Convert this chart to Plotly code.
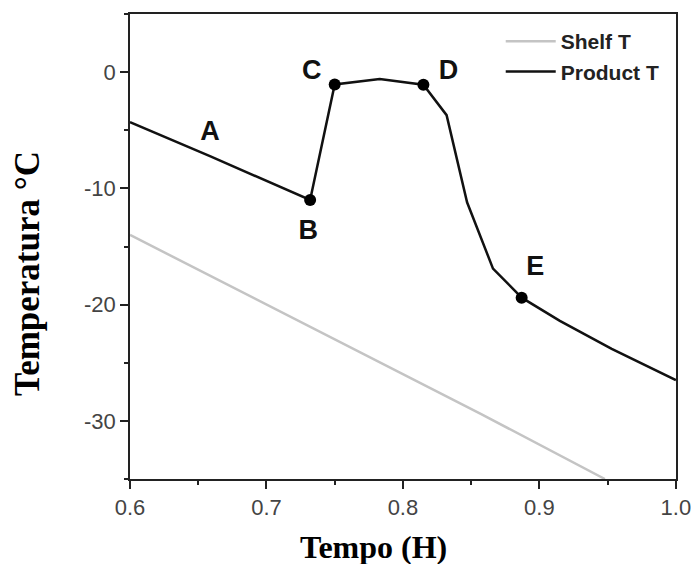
import plotly.graph_objects as go

# Data
shelf_x = [0.600, 0.857, 0.948]
shelf_y = [-14.0, -29.4, -35.0]

product_x = [0.600, 0.659, 0.732, 0.750, 0.783, 0.815, 0.832, 0.847, 0.866, 0.887, 0.915, 0.953, 1.000]
product_y = [-4.3, -7.25, -11.0, -1.06, -0.6, -1.08, -3.7, -11.2, -16.9, -19.4, -21.4, -23.8, -26.5]

point_labels = ["B", "C", "D", "E"]
point_x = [0.732, 0.750, 0.815, 0.887]
point_y = [-11.0, -1.06, -1.08, -19.4]

region_labels = ["A", "B", "C", "D", "E"]
region_x = [0.6587, 0.7307, 0.7332, 0.8334, 0.897]
region_y = [-5.3, -13.76, 0.0, 0.0, -16.9]

x_ticks = [0.6, 0.7, 0.8, 0.9, 1.0]
x_ticktext = ["0.6", "0.7", "0.8", "0.9", "1.0"]
y_ticks = [-30, -20, -10, 0]
y_ticktext = ["-30", "-20", "-10", "0"]

fig = go.Figure()
fig.add_trace(go.Scatter(x=shelf_x, y=shelf_y, mode="lines", name="<b>Shelf T</b>",
                         line=dict(color="#c4c4c4", width=2.5)))
fig.add_trace(go.Scatter(x=product_x, y=product_y, mode="lines", name="<b>Product T</b>",
                         line=dict(color="#111111", width=2.5)))
fig.add_trace(go.Scatter(x=point_x, y=point_y, mode="markers", showlegend=False,
                         marker=dict(color="#000000", size=12)))
fig.add_trace(go.Scatter(x=region_x, y=region_y, mode="text", text=region_labels, showlegend=False,
                         textfont=dict(family="Liberation Sans, Arial", size=27, color="#111111", weight="bold"),
                         textposition="middle center"))

axis_common = dict(showline=True, linecolor="#222222", linewidth=1.8, mirror=True,
                   ticks="outside", ticklen=8, tickwidth=1.5, tickcolor="#222222",
                   showgrid=False, zeroline=False, automargin=False, ticklabeloverflow="allow",
                   tickfont=dict(family="Liberation Sans, Arial", size=22, color="#444444"))

fig.update_xaxes(range=[0.6, 1.0001], tickvals=x_ticks, ticktext=x_ticktext,
                 minor=dict(ticks="outside", ticklen=4, dtick=0.05, tickcolor="#222222", tickwidth=1.5),
                 **axis_common)
fig.update_yaxes(range=[-35, 5], tickvals=y_ticks, ticktext=y_ticktext,
                 minor=dict(ticks="outside", ticklen=4, dtick=5, tickcolor="#222222", tickwidth=1.5),
                 **axis_common)

fig.add_annotation(text="<b>Tempo (H)</b>", xref="paper", yref="paper", x=(373 - 130) / 546, y=(479 - 547) / 465,
                   showarrow=False, xanchor="center", yanchor="middle",
                   font=dict(family="Liberation Serif, Times New Roman", size=32, color="#000000"))
fig.add_annotation(text="<b>Temperatura °C</b>", xref="paper", yref="paper", x=(27 - 130) / 546, y=(479 - 274) / 465,
                   showarrow=False, xanchor="center", yanchor="middle", textangle=-90,
                   font=dict(family="Liberation Serif, Times New Roman", size=35, color="#000000"))

fig.update_layout(
    width=691, height=564,
    margin=dict(l=130, r=15, t=14, b=85, autoexpand=False),
    plot_bgcolor="white", paper_bgcolor="white",
    legend=dict(x=0.679, y=0.985, xanchor="left", yanchor="top", bgcolor="rgba(0,0,0,0)",
                font=dict(family="Liberation Sans, Arial", size=21, color="#222222"),
                itemwidth=50, tracegroupgap=0),
)

fig.write_html("out.html")
